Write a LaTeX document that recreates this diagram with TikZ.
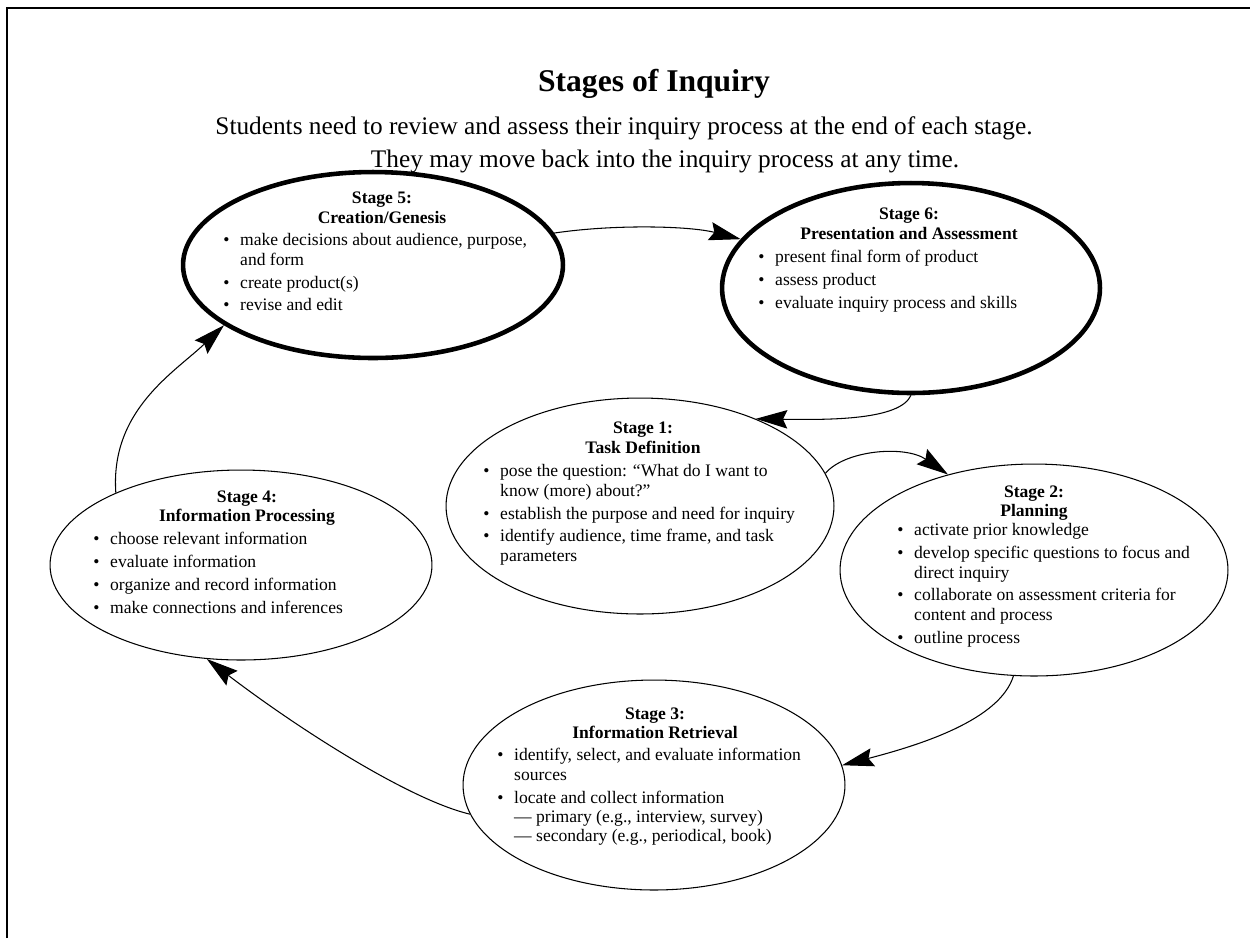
\documentclass[tikz,border=0pt]{standalone}
\usepackage{fontspec}
\setmainfont{Liberation Serif}
\usetikzlibrary{shapes.geometric, arrows.meta}
\tikzset{>={Stealth[length=18pt, width=10.5pt, inset=2.5pt]}}
\newcommand*{\bl}{\textbullet}
\newcommand*{\bodyfont}{\fontsize{10}{11}\selectfont}

\begin{document}
\begin{tikzpicture}[x=0.02cm, y=-0.02cm,
    stage/.style={ellipse, draw, line width=0.6pt, inner sep=0pt},
    thickstage/.style={stage, line width=2.6pt},
    head/.style={font=\bodyfont\bfseries, align=center, anchor=north, inner sep=0pt},
    items/.style={font=\bodyfont, anchor=north west, inner sep=0pt},
    flow/.style={->, line width=0.6pt}]
    \useasboundingbox (0, 0) rectangle (1250, 938);
    \draw[line width=1.2pt](7, 938)--(7, 8)--(1250, 8);
    % titles
    \node[font=\fontsize{18}{22}\selectfont\bfseries] (title) at (654, 84) {Stages of Inquiry};
    \node[font=\fontsize{14.4}{18}\selectfont] (sub1) at (624, 128)
        {Students need to review and assess their inquiry process at the end of each stage.};
    \node[font=\fontsize{14.4}{18}\selectfont] (sub2) at (665, 161)
        {They may move back into the inquiry process at any time.};
    % stage 5
    \node[thickstage, minimum width=7.6cm, minimum height=3.72cm] (s5) at (373, 265) {};
    \node[head] (h5) at (382, 192) {Stage 5:\\Creation/Genesis};
    \node[items] (l5) at (223, 232) {\begin{tabular}{@{}p{9.6pt}@{}l@{}}
        \bl & make decisions about audience, purpose,\\ & and form\\[2pt]
        \bl & create product(s)\\[2pt]
        \bl & revise and edit
    \end{tabular}};
    % stage 6
    \node[thickstage, minimum width=7.56cm, minimum height=4.2cm] (s6) at (911, 288) {};
    \node[head] (h6) at (909, 208) {Stage 6:\\Presentation and Assessment};
    \node[items] (l6) at (758, 249) {\begin{tabular}{@{}p{9.6pt}@{}l@{}}
        \bl & present final form of product\\[2pt]
        \bl & assess product\\[2pt]
        \bl & evaluate inquiry process and skills
    \end{tabular}};
    % stage 1
    \node[stage, minimum width=7.76cm, minimum height=4.32cm] (s1) at (640, 506) {};
    \node[head] (h1) at (643, 422) {Stage 1:\\Task Definition};
    \node[items] (l1) at (483, 463) {\begin{tabular}{@{}p{9.6pt}@{}l@{}}
        \bl & pose the question: “What do I want to\\ & know (more) about?”\\[2pt]
        \bl & establish the purpose and need for inquiry\\[2pt]
        \bl & identify audience, time frame, and task\\ & parameters
    \end{tabular}};
    % stage 2
    \node[stage, minimum width=7.76cm, minimum height=4.24cm] (s2) at (1034, 570) {};
    \node[head] (h2) at (1034, 485) {Stage 2:\\Planning};
    \node[items] (l2) at (897, 522) {\begin{tabular}{@{}p{9.6pt}@{}l@{}}
        \bl & activate prior knowledge\\[2pt]
        \bl & develop specific questions to focus and\\ & direct inquiry\\[2pt]
        \bl & collaborate on assessment criteria for\\ & content and process\\[2pt]
        \bl & outline process
    \end{tabular}};
    % stage 3
    \node[stage, minimum width=7.64cm, minimum height=4.2cm] (s3) at (654, 785) {};
    \node[head] (h3) at (655, 707) {Stage 3:\\Information Retrieval};
    \node[items] (l3) at (497, 747) {\begin{tabular}{@{}p{9.6pt}@{}l@{}}
        \bl & identify, select, and evaluate information\\ & sources\\[2pt]
        \bl & locate and collect information\\ & — primary (e.g., interview, survey)\\ & — secondary (e.g., periodical, book)
    \end{tabular}};
    % stage 4
    \node[stage, minimum width=7.64cm, minimum height=3.8cm] (s4) at (241, 565) {};
    \node[head] (h4) at (247, 490) {Stage 4:\\Information Processing};
    \node[items] (l4) at (93, 531) {\begin{tabular}{@{}p{9.6pt}@{}l@{}}
        \bl & choose relevant information\\[2pt]
        \bl & evaluate information\\[2pt]
        \bl & organize and record information\\[2pt]
        \bl & make connections and inferences
    \end{tabular}};
    % cycle
    \draw[flow](s5.10) .. controls (615, 224) and (690, 226) .. (s6.164);
    \draw[flow](s6.south) .. controls (900, 420) and (830, 420) .. (s1.37);
    \draw[flow](s1.10) .. controls (845, 450) and (905, 445) .. (s2.132);
    \draw[flow](s2.-101) .. controls (1000, 720) and (920, 745) .. (s3.6);
    \draw[flow](s3.189) .. controls (410, 800) and (300, 730) .. (s4.-110);
    \draw[flow](s4.150) .. controls (110, 410) and (175, 372) .. (s5.202);
\end{tikzpicture}
\end{document}
